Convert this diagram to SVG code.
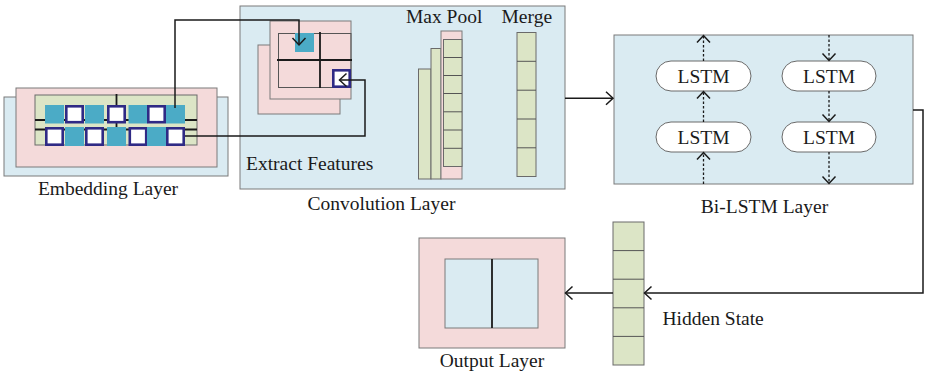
<svg xmlns="http://www.w3.org/2000/svg" width="927" height="373" viewBox="0 0 927 373">
  <style>
    .lbl { font-family: "Liberation Serif", "Times New Roman", serif; font-size: 19.5px; fill: #1a1a1a; }
    .blue { fill: #DAEBF2; stroke: #7a7a7a; stroke-width: 1; }
    .pink { fill: #F4DADA; stroke: #7a7a7a; stroke-width: 1; }
    .green { fill: #DCE5C6; stroke: #6a6a6a; stroke-width: 1; }
    .teal { fill: #4BABC6; }
    .hole { fill: #ffffff; stroke: #2F2A85; stroke-width: 2.6; }
    .thin { fill: none; stroke: #555; stroke-width: 1; }
    .thick { fill: none; stroke: #1a1a1a; stroke-width: 1.8; }
    .wire { fill: none; stroke: #1a1a1a; stroke-width: 1.5; }
    .dots { fill: none; stroke: #1a1a1a; stroke-width: 1.3; stroke-dasharray: 2.5 2; }
    .pill { fill: #ffffff; stroke: #6a6a6a; stroke-width: 1; }
  </style>
  <defs>
    <marker id="vhead" markerUnits="userSpaceOnUse" markerWidth="20" markerHeight="20" viewBox="-10 -10 20 20" refX="0" refY="0" orient="auto">
      <path d="M-7,-6.5 L0,0 L-7,6.5" fill="none" stroke="#1a1a1a" stroke-width="1.5"/>
    </marker>
  </defs>

  <rect width="927" height="373" fill="#ffffff"/>

  <!-- Embedding layer -->
  <g id="embedding-layer">
    <rect class="blue" x="4" y="97" width="224" height="79"/>
    <rect class="pink" x="16" y="88" width="201" height="79"/>
    <rect class="green" x="35" y="95" width="162" height="50"/>
    <path class="thick" d="M35,120 H197 M35,129.5 H197 M116.5,94 V146" stroke-width="1.4"/>
    <!-- top row -->
    <rect class="teal" x="45" y="105" width="19" height="18.5"/>
    <rect class="hole" x="66.3" y="106.3" width="16.4" height="15.9"/>
    <rect class="teal" x="85" y="105" width="19" height="18.5"/>
    <rect class="hole" x="108.3" y="106.3" width="16.4" height="15.9"/>
    <rect class="teal" x="128.5" y="105" width="19" height="18.5"/>
    <rect class="hole" x="148.3" y="106.3" width="16.4" height="15.9"/>
    <rect class="teal" x="166" y="105" width="19" height="18.5"/>
    <!-- bottom row -->
    <rect class="hole" x="46.3" y="128.3" width="16.4" height="16.4"/>
    <rect class="teal" x="65" y="127" width="19" height="19"/>
    <rect class="hole" x="86.3" y="128.3" width="16.4" height="16.4"/>
    <rect class="teal" x="107" y="127" width="19" height="19"/>
    <rect class="hole" x="129.8" y="128.3" width="16.4" height="16.4"/>
    <rect class="teal" x="147" y="127" width="19" height="19"/>
    <rect class="hole" x="167.3" y="128.3" width="16.4" height="16.4"/>
    <text class="lbl" x="108" y="195" text-anchor="middle">Embedding Layer</text>
  </g>

  <!-- Convolution layer -->
  <g id="convolution-layer">
    <rect class="blue" x="240" y="6" width="325" height="183"/>
    <rect class="pink" x="258" y="45" width="82" height="69"/>
    <rect class="pink" x="270" y="21" width="81" height="78"/>
    <rect class="thin" x="278.5" y="33.5" width="72.5" height="54"/>
    <rect class="teal" x="295" y="33" width="19" height="19"/>
    <path class="thick" d="M277,60 H352 M320,32 V88"/>
    <rect class="hole" x="333.3" y="70.3" width="16.4" height="16.4"/>
    <text class="lbl" x="246" y="170">Extract Features</text>

    <text class="lbl" x="406" y="23">Max Pool</text>
    <rect class="green" x="418.5" y="69" width="12.5" height="110"/>
    <rect class="green" x="431" y="48.5" width="10" height="130.5"/>
    <rect class="pink" x="441" y="31" width="21" height="148"/>
    <rect class="green" x="443.5" y="39.5" width="18.5" height="127"/>
    <path class="thin" d="M443.5,57.5 H462 M443.5,75.5 H462 M443.5,93.5 H462 M443.5,111.8 H462 M443.5,130 H462 M443.5,148.3 H462"/>

    <text class="lbl" x="501.5" y="23">Merge</text>
    <rect class="green" x="517" y="32.5" width="19" height="144"/>
    <path class="thin" d="M517,61.3 H536 M517,90.2 H536 M517,119 H536 M517,147.8 H536"/>
    <text class="lbl" x="381.5" y="210" text-anchor="middle">Convolution Layer</text>
  </g>

  <!-- Bi-LSTM layer -->
  <g id="bilstm-layer">
    <rect class="blue" x="614" y="35" width="299" height="149"/>
    <rect class="pill" x="656" y="61" width="95" height="30" rx="15" ry="15"/>
    <rect class="pill" x="782" y="61" width="94" height="30" rx="15" ry="15"/>
    <rect class="pill" x="656" y="122" width="95" height="30" rx="15" ry="15"/>
    <rect class="pill" x="782" y="122" width="94" height="30" rx="15" ry="15"/>
    <text class="lbl" x="703.5" y="82.5" text-anchor="middle">LSTM</text>
    <text class="lbl" x="829" y="82.5" text-anchor="middle">LSTM</text>
    <text class="lbl" x="703.5" y="143.5" text-anchor="middle">LSTM</text>
    <text class="lbl" x="829" y="143.5" text-anchor="middle">LSTM</text>
    <!-- forward direction (upwards) -->
    <path class="dots" d="M703.5,184 V152.5" marker-end="url(#vhead)"/>
    <path class="dots" d="M703.5,122 V91.5" marker-end="url(#vhead)"/>
    <path class="dots" d="M703.5,61 V35.5" marker-end="url(#vhead)"/>
    <!-- backward direction (downwards) -->
    <path class="dots" d="M829,35 V60.5" marker-end="url(#vhead)"/>
    <path class="dots" d="M829,91 V121.5" marker-end="url(#vhead)"/>
    <path class="dots" d="M829,152 V183.5" marker-end="url(#vhead)"/>
    <text class="lbl" x="764.5" y="213.3" text-anchor="middle">Bi-LSTM Layer</text>
  </g>

  <!-- Hidden state -->
  <g id="hidden-state">
    <rect class="green" x="613" y="222" width="31" height="143"/>
    <path class="thin" d="M613,250.6 H644 M613,279.2 H644 M613,307.8 H644 M613,336.4 H644"/>
    <text class="lbl" x="662.5" y="325">Hidden State</text>
  </g>

  <!-- Output layer -->
  <g id="output-layer">
    <rect class="pink" x="419" y="238" width="146" height="110"/>
    <rect class="blue" x="445" y="259" width="93" height="69"/>
    <path class="thick" d="M492,259 V328"/>
    <text class="lbl" x="492" y="366.7" text-anchor="middle">Output Layer</text>
  </g>

  <!-- Connectors -->
  <g id="connectors">
    <path class="wire" d="M175,108 V20 H299 V45" marker-end="url(#vhead)"/>
    <path class="wire" d="M185,136 H365 V80 H339.5" marker-end="url(#vhead)"/>
    <path class="wire" d="M565,98.3 H613" marker-end="url(#vhead)"/>
    <path class="wire" d="M913,110 H923 V293 H644.5" marker-end="url(#vhead)"/>
    <path class="wire" d="M613,293 H565.5" marker-end="url(#vhead)"/>
  </g>
</svg>
